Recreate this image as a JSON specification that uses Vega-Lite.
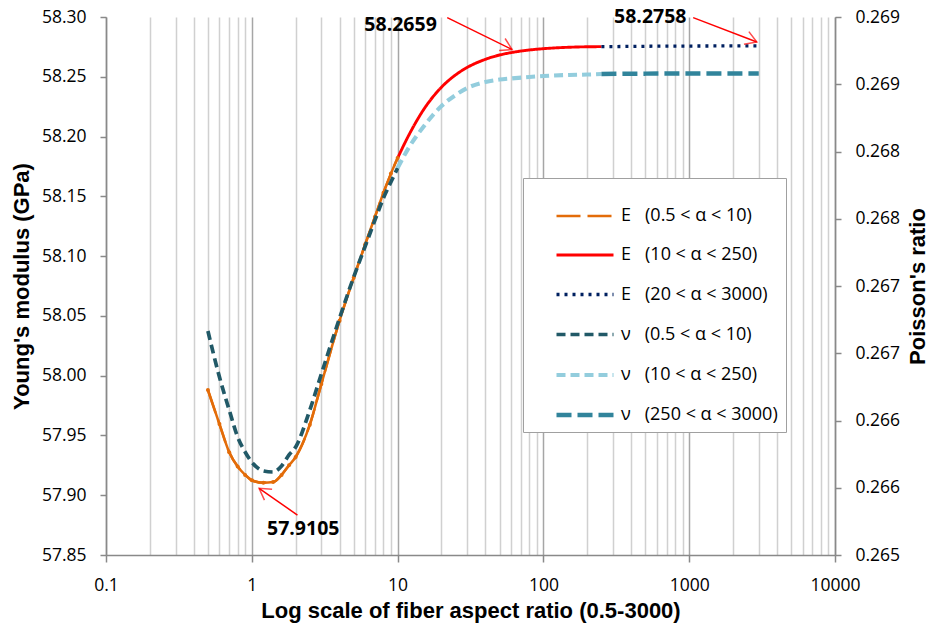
{
  "$schema": "https://vega.github.io/schema/vega-lite/v6.json",
  "width": 729,
  "height": 538,
  "autosize": {"type": "none"},
  "padding": {"left": 106, "top": 17, "right": 96, "bottom": 72},
  "background": "white",
  "config": {
    "view": {"stroke": null},
    "axis": {
      "labelFont": "Open Sans", "labelFontSize": 17.5, "labelColor": "black",
      "titleFont": "Liberation Sans", "titleFontSize": 22, "titleFontWeight": "bold", "titleColor": "black",
      "domainColor": "#898989", "domainWidth": 1.5, "tickColor": "#898989", "tickWidth": 1.5
    },
    "legend": {
      "orient": "none", "legendX": 417, "legendY": 161,
      "strokeColor": "#a0a0a0", "fillColor": "white", "padding": 8,
      "symbolType": "stroke", "symbolSize": 3249, "symbolOffset": 23,
      "labelFont": "Open Sans", "labelFontSize": 18, "labelColor": "black",
      "labelOffset": 5, "rowPadding": 0, "labelLimit": 400
    }
  },
  "datasets": {
    "E": [
      {"s": "E1", "a": 0.5, "E": 57.988}, {"s": "E1", "a": 0.6, "E": 57.9595}, {"s": "E1", "a": 0.7, "E": 57.936},
      {"s": "E1", "a": 0.8, "E": 57.924}, {"s": "E1", "a": 0.9, "E": 57.917}, {"s": "E1", "a": 1.0, "E": 57.9125},
      {"s": "E1", "a": 1.2, "E": 57.9105}, {"s": "E1", "a": 1.4, "E": 57.911}, {"s": "E1", "a": 1.6, "E": 57.917},
      {"s": "E1", "a": 1.8, "E": 57.925}, {"s": "E1", "a": 2.0, "E": 57.932}, {"s": "E1", "a": 2.5, "E": 57.959},
      {"s": "E1", "a": 3, "E": 57.993}, {"s": "E1", "a": 4, "E": 58.046}, {"s": "E1", "a": 5, "E": 58.082},
      {"s": "E1", "a": 6, "E": 58.110}, {"s": "E1", "a": 7, "E": 58.133}, {"s": "E1", "a": 8, "E": 58.153},
      {"s": "E1", "a": 9, "E": 58.169}, {"s": "E1", "a": 10, "E": 58.182},
      {"s": "E2", "a": 10, "E": 58.182}, {"s": "E2", "a": 12, "E": 58.2017}, {"s": "E2", "a": 15, "E": 58.2221},
      {"s": "E2", "a": 20, "E": 58.2413}, {"s": "E2", "a": 25, "E": 58.2516}, {"s": "E2", "a": 30, "E": 58.2578},
      {"s": "E2", "a": 40, "E": 58.2646}, {"s": "E2", "a": 50, "E": 58.2682}, {"s": "E2", "a": 60, "E": 58.2702},
      {"s": "E2", "a": 80, "E": 58.2724}, {"s": "E2", "a": 100, "E": 58.2735}, {"s": "E2", "a": 150, "E": 58.2747},
      {"s": "E2", "a": 200, "E": 58.2751}, {"s": "E2", "a": 250, "E": 58.2752},
      {"s": "E3", "a": 250, "E": 58.2752}, {"s": "E3", "a": 400, "E": 58.2754}, {"s": "E3", "a": 600, "E": 58.2756},
      {"s": "E3", "a": 1000, "E": 58.2757}, {"s": "E3", "a": 2000, "E": 58.2758}, {"s": "E3", "a": 3000, "E": 58.2758}
    ],
    "nu": [
      {"s": "v1", "a": 0.5, "nu": 0.266665}, {"s": "v1", "a": 0.6, "nu": 0.266323}, {"s": "v1", "a": 0.7, "nu": 0.266078},
      {"s": "v1", "a": 0.8, "nu": 0.265877}, {"s": "v1", "a": 0.9, "nu": 0.265766}, {"s": "v1", "a": 1.0, "nu": 0.265691},
      {"s": "v1", "a": 1.2, "nu": 0.265625}, {"s": "v1", "a": 1.4, "nu": 0.265617}, {"s": "v1", "a": 1.6, "nu": 0.265662},
      {"s": "v1", "a": 1.8, "nu": 0.265744}, {"s": "v1", "a": 2.0, "nu": 0.265803}, {"s": "v1", "a": 2.5, "nu": 0.266078},
      {"s": "v1", "a": 3, "nu": 0.266346}, {"s": "v1", "a": 4, "nu": 0.266762}, {"s": "v1", "a": 5, "nu": 0.267067},
      {"s": "v1", "a": 6, "nu": 0.267297}, {"s": "v1", "a": 7, "nu": 0.267491}, {"s": "v1", "a": 8, "nu": 0.267654},
      {"s": "v1", "a": 9, "nu": 0.267773}, {"s": "v1", "a": 10, "nu": 0.267877},
      {"s": "v2", "a": 10, "nu": 0.267877}, {"s": "v2", "a": 12, "nu": 0.268033}, {"s": "v2", "a": 15, "nu": 0.268182},
      {"s": "v2", "a": 20, "nu": 0.268338}, {"s": "v2", "a": 25, "nu": 0.26842}, {"s": "v2", "a": 30, "nu": 0.268472},
      {"s": "v2", "a": 40, "nu": 0.268517}, {"s": "v2", "a": 50, "nu": 0.268535}, {"s": "v2", "a": 60, "nu": 0.268543},
      {"s": "v2", "a": 80, "nu": 0.268554}, {"s": "v2", "a": 100, "nu": 0.268561}, {"s": "v2", "a": 150, "nu": 0.268569},
      {"s": "v2", "a": 200, "nu": 0.268572}, {"s": "v2", "a": 250, "nu": 0.268576},
      {"s": "v3", "a": 250, "nu": 0.268576}, {"s": "v3", "a": 500, "nu": 0.268579}, {"s": "v3", "a": 1000, "nu": 0.26858},
      {"s": "v3", "a": 2000, "nu": 0.26858}, {"s": "v3", "a": 3000, "nu": 0.26858}
    ],
    "arrows": [
      {"id": 1, "a": 2.056, "E": 57.8834, "a2": 1.122, "E2": 57.9058},
      {"id": 2, "a": 21.9, "E": 58.2995, "a2": 61.0, "E2": 58.2728},
      {"id": 3, "a": 1065, "E": 58.2995, "a2": 2909, "E2": 58.2791}
    ],
    "notes": [
      {"a": 2.253, "E": 57.8717, "t": "57.9105"},
      {"a": 10.48, "E": 58.293, "t": "58.2659"},
      {"a": 540.7, "E": 58.2998, "t": "58.2758"}
    ]
  },
  "layer": [
    {
      "layer": [
        {
          "data": {"name": "E"},
          "mark": {"type": "line", "interpolate": "monotone", "strokeCap": "butt"},
          "encoding": {
            "x": {
              "field": "a", "type": "quantitative",
              "scale": {"type": "log", "domain": [0.1, 10000]},
              "axis": {
                "values": [0.1,0.2,0.3,0.4,0.5,0.6,0.7,0.8,0.9,1,2,3,4,5,6,7,8,9,10,20,30,40,50,60,70,80,90,100,200,300,400,500,600,700,800,900,1000,2000,3000,4000,5000,6000,7000,8000,9000,10000],
                "format": "~g",
                "labelExpr": "indexof([0.1,1,10,100,1000,10000], datum.value) >= 0 ? datum.label : ''",
                "labelOverlap": false,
                "labelFlush": false,
                "grid": true,
                "gridColor": {"condition": {"test": "indexof([0.1,1,10,100,1000,10000], datum.value) >= 0", "value": "#a6a6a6"}, "value": "#d0d0d0"},
                "gridWidth": 1.5,
                "tickOpacity": {"condition": {"test": "indexof([0.1,1,10,100,1000,10000], datum.value) >= 0", "value": 1}, "value": 0},
                "tickSize": 7,
                "labelPadding": 14,
                "title": "Log scale of fiber aspect ratio (0.5-3000)",
                "titlePadding": 7
              }
            },
            "y": {
              "field": "E", "type": "quantitative",
              "scale": {"domain": [57.85, 58.3], "zero": false, "nice": false},
              "axis": {
                "values": [57.85,57.9,57.95,58.0,58.05,58.1,58.15,58.2,58.25,58.3],
                "format": ".2f", "grid": false, "tickSize": 6, "labelPadding": 14,
                "title": "Young's modulus (GPa)", "titlePadding": 8
              }
            },
            "color": {
              "field": "s", "type": "nominal",
              "scale": {"domain": ["E1","E2","E3","v1","v2","v3"], "range": ["#E36C09","#FF0000","#002060","#215967","#93CDDD","#31849B"]},
              "legend": {
                "title": null,
                "labelExpr": "datum.label == 'E1' ? 'E\u00a0\u00a0\u00a0(0.5 < α < 10)' : datum.label == 'E2' ? 'E\u00a0\u00a0\u00a0(10 < α < 250)' : datum.label == 'E3' ? 'E\u00a0\u00a0\u00a0(20 < α < 3000)' : datum.label == 'v1' ? 'ν\u00a0\u00a0\u00a0(0.5 < α < 10)' : datum.label == 'v2' ? 'ν\u00a0\u00a0\u00a0(10 < α < 250)' : 'ν\u00a0\u00a0\u00a0(250 < α < 3000)\u00a0\u00a0\u00a0\u00a0'"
              }
            },
            "strokeDash": {
              "field": "s", "type": "nominal",
              "scale": {"domain": ["E1","E2","E3","v1","v2","v3"], "range": [[24,7],[1,0],[3,5],[9,5],[9,5],[15,6]]},
              "legend": {"title": null}
            },
            "strokeWidth": {
              "field": "s", "type": "nominal",
              "scale": {"domain": ["E1","E2","E3","v1","v2","v3"], "range": [2.5,4.5,3,4,4,4]},
              "legend": {"title": null}
            }
          }
        },
        {
          "data": {"name": "E"},
          "transform": [{"filter": "datum.s == 'E1'"}],
          "mark": {"type": "line", "interpolate": "monotone", "color": "#E36C09", "strokeWidth": 2.5, "point": {"filled": true, "size": 16, "color": "#E36C09"}},
          "encoding": {
            "x": {"field": "a", "type": "quantitative", "scale": {"type": "log"}},
            "y": {"field": "E", "type": "quantitative"}
          }
        },
        {
          "data": {"name": "arrows"},
          "mark": {"type": "rule", "color": "#FF0000", "strokeWidth": 1.5},
          "encoding": {
            "x": {"field": "a", "type": "quantitative", "scale": {"type": "log"}},
            "x2": {"field": "a2"},
            "y": {"field": "E", "type": "quantitative"},
            "y2": {"field": "E2"}
          }
        },
        {
          "data": {"name": "arrows"},
          "transform": [{"filter": "datum.id == 1"}],
          "mark": {"type": "point", "shape": "M -1 -0.6 L 0 0 L -1 0.6", "filled": false, "stroke": "#FF0000", "strokeWidth": 1.5, "size": 500, "angle": 214.8},
          "encoding": {
            "x": {"field": "a2", "type": "quantitative", "scale": {"type": "log"}},
            "y": {"field": "E2", "type": "quantitative"}
          }
        },
        {
          "data": {"name": "arrows"},
          "transform": [{"filter": "datum.id == 2"}],
          "mark": {"type": "point", "shape": "M -1 -0.6 L 0 0 L -1 0.6", "filled": false, "stroke": "#FF0000", "strokeWidth": 1.5, "size": 500, "angle": 26.6},
          "encoding": {
            "x": {"field": "a2", "type": "quantitative", "scale": {"type": "log"}},
            "y": {"field": "E2", "type": "quantitative"}
          }
        },
        {
          "data": {"name": "arrows"},
          "transform": [{"filter": "datum.id == 3"}],
          "mark": {"type": "point", "shape": "M -1 -0.6 L 0 0 L -1 0.6", "filled": false, "stroke": "#FF0000", "strokeWidth": 1.5, "size": 500, "angle": 21.4},
          "encoding": {
            "x": {"field": "a2", "type": "quantitative", "scale": {"type": "log"}},
            "y": {"field": "E2", "type": "quantitative"}
          }
        },
        {
          "data": {"name": "notes"},
          "mark": {"type": "text", "font": "Open Sans", "fontSize": 19.5, "fontWeight": "bold", "color": "black", "baseline": "middle", "align": "center"},
          "encoding": {
            "x": {"field": "a", "type": "quantitative", "scale": {"type": "log"}},
            "y": {"field": "E", "type": "quantitative"},
            "text": {"field": "t"}
          }
        }
      ]
    },
    {
      "data": {"name": "nu"},
      "mark": {"type": "line", "interpolate": "monotone", "strokeCap": "butt"},
      "encoding": {
        "x": {"field": "a", "type": "quantitative", "scale": {"type": "log"}},
        "y": {
          "field": "nu", "type": "quantitative",
          "scale": {"domain": [0.265, 0.269], "zero": false, "nice": false},
          "axis": {
            "orient": "right",
            "values": [0.265,0.2655,0.266,0.2665,0.267,0.2675,0.268,0.2685,0.269],
            "labelExpr": "format(datum.value + 0.000001, '.3f')",
            "grid": false, "tickSize": 6, "labelPadding": 14,
            "title": "Poisson's ratio", "titleAngle": 270, "titlePadding": 30
          }
        },
        "color": {"field": "s", "type": "nominal", "scale": {"domain": ["E1","E2","E3","v1","v2","v3"]}},
        "strokeDash": {"field": "s", "type": "nominal", "scale": {"domain": ["E1","E2","E3","v1","v2","v3"]}},
        "strokeWidth": {"field": "s", "type": "nominal", "scale": {"domain": ["E1","E2","E3","v1","v2","v3"]}}
      }
    }
  ],
  "resolve": {"scale": {"y": "independent"}}
}
